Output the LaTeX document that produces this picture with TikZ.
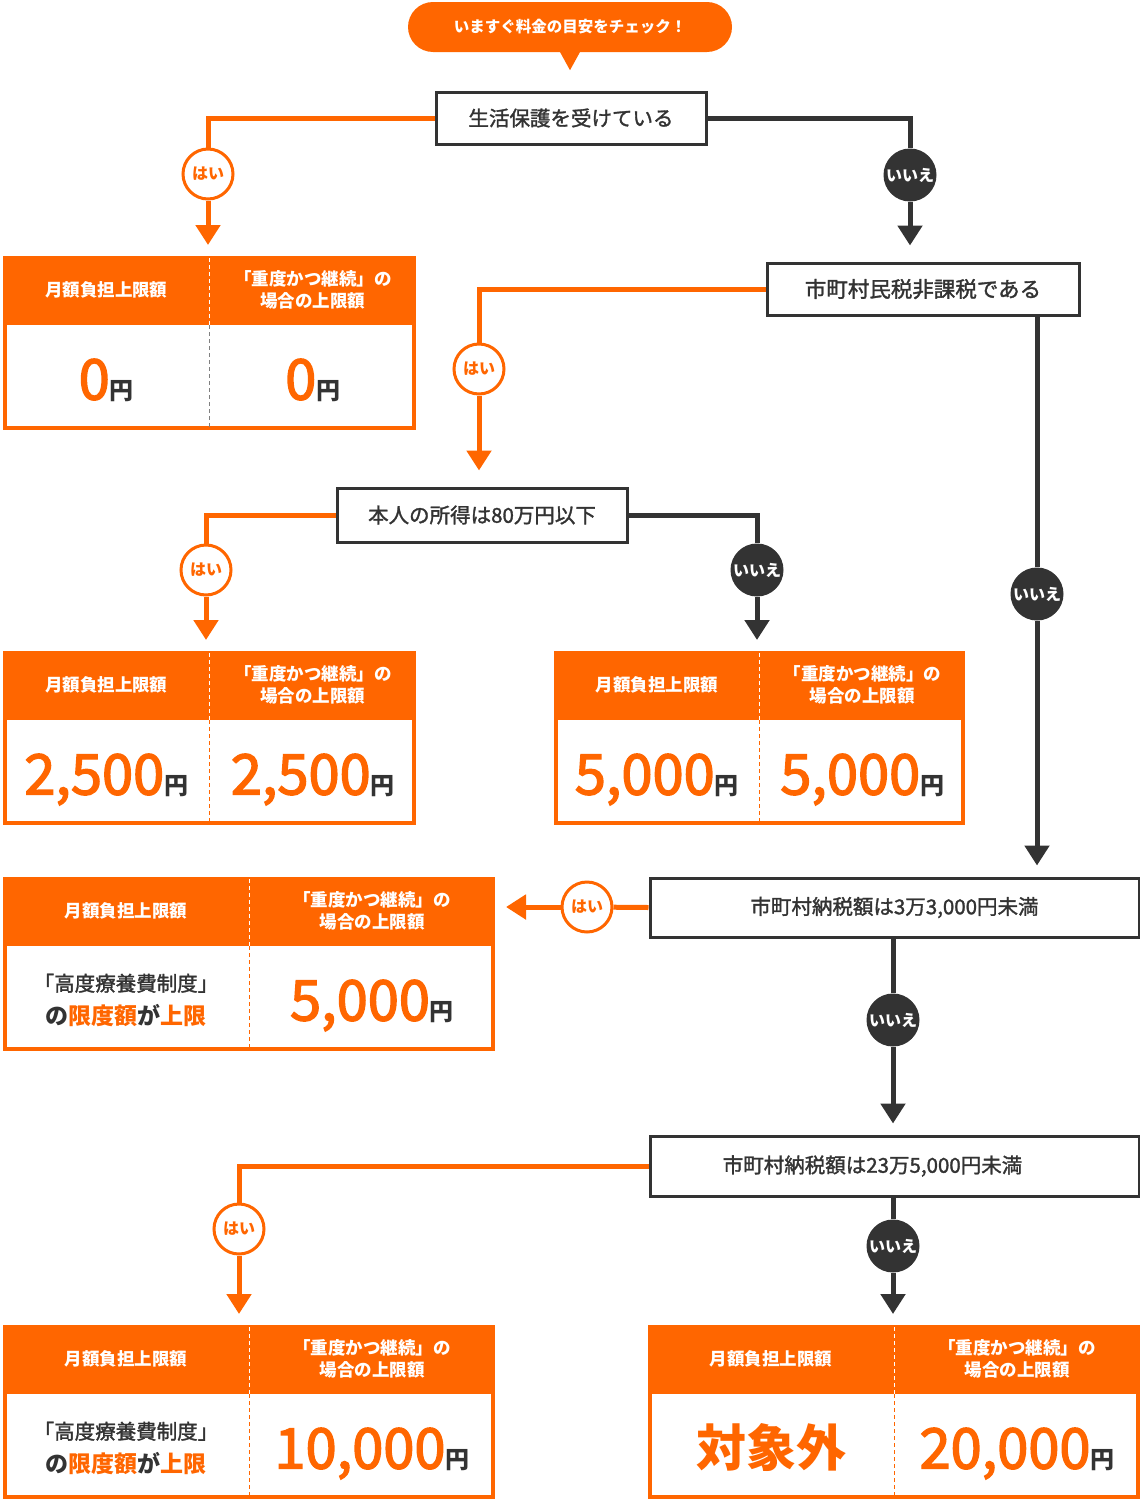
\documentclass[tikz,border=0pt]{standalone}
\usepackage{fontspec}
\setmainfont{Noto Sans CJK JP}
\newfontfamily\mediumfont[FakeBold=1.5]{Noto Sans CJK JP}
\newfontfamily\amountfont[FakeBold=2.5]{Noto Sans CJK JP}
\usepackage{tikz}
\usetikzlibrary{arrows.meta, calc, positioning}

\definecolor{brand}{HTML}{FF6600}
\definecolor{ink}{HTML}{333333}

% small unit after the amounts
\newcommand{\enunit}{{\normalfont\bfseries\color{ink}\fontsize{24}{24}\selectfont 円}}

% result box: [divider colour]{name}{top left}{width}
\newcommand{\costbox}[4][brand]{%
    \node[costframe, minimum width=#4pt, anchor=north west] (#2) at (#3) {};
    \fill[brand] (#2.north west) rectangle ($(#2.north east)+(0,69)$);
    \draw[divider, white] ($(#2.north)+(0,2)$) -- ($(#2.north)+(0,69)$);
    \draw[divider, #1] ($(#2.north)+(0,69)$) -- ($(#2.south)+(0,-2)$);
    \node[headtext] (#2-hl) at ($(#2.north west)!0.5!(#2.north)+(0,34)$) {月額負担上限額};
    \node[headtext] (#2-hr) at ($(#2.north)!0.5!(#2.north east)+(0,34)$) {「重度かつ継続」の\\場合の上限額};
    \coordinate (#2-bl) at ($(#2.south west)!0.5!(#2.south)+(0,-51)$);
    \coordinate (#2-br) at ($(#2.south)!0.5!(#2.south east)+(0,-51)$);
}

\begin{document}
\begin{tikzpicture}[
        x=1pt, y=-1pt, % pixel grid, y going down
        every node/.style={inner sep=0pt},
        bubble/.style={fill=brand, text=white, rounded corners=25pt, minimum width=324pt, minimum height=50pt, font=\fontsize{15.5}{15.5}\selectfont\bfseries},
        question/.style={draw=ink, line width=3pt, fill=white, text=ink, anchor=north west, font=\mediumfont\fontsize{20.5}{20.5}\selectfont},
        costframe/.style={draw=brand, line width=4pt, fill=white, minimum height=170pt},
        divider/.style={line width=1pt, dash pattern=on 4pt off 3pt},
        headtext/.style={text=white, align=center, font=\fontsize{17.5}{22}\selectfont\bfseries},
        amount/.style={text=brand, font=\amountfont\fontsize{56}{56}\selectfont, text height=41pt, text depth=0pt},
        bigword/.style={text=brand, font=\fontsize{50}{50}\selectfont\bfseries},
        note/.style={text=ink, align=center, font=\mediumfont\fontsize{20.5}{33}\selectfont},
        yesdot/.style={circle, draw=brand, line width=3pt, fill=white, minimum size=50pt, text=brand, font=\fontsize{16}{16}\selectfont\bfseries},
        nodot/.style={circle, fill=ink, minimum size=53pt, text=white, font=\fontsize{16}{16}\selectfont\bfseries},
        yes/.style={draw=brand, line width=5pt},
        no/.style={draw=ink, line width=5pt},
        tip/.style={-{Triangle[width=24pt,length=20pt]}, shorten >=11pt},
        longtip/.style={-{Triangle[width=24pt,length=20pt]}, shorten >=16pt}
    ]
        \useasboundingbox (0,0) rectangle (1140,1499);

        % Speech bubble
        \node[bubble] (hint) at (570,27) {いますぐ料金の目安をチェック！};
        \fill[brand] ($(hint.south)+(-11,-2)$) -- ($(hint.south)+(0,18)$) -- ($(hint.south)+(11,-2)$) -- cycle;

        % Questions
        \node[question, minimum width=270pt, minimum height=52pt] (q1) at (434.5,90.5) {生活保護を受けている};
        \node[question, minimum width=312pt, minimum height=52pt, font=\mediumfont\fontsize{21.5}{21.5}\selectfont] (q2) at (765.5,261.5) {市町村民税非課税である};
        \node[question, minimum width=290pt, minimum height=54pt] (q3) at (335.5,486.5) {本人の所得は80万円以下};
        \node[question, minimum width=489pt, minimum height=59pt] (q4) at (648.5,876.5) {市町村納税額は3万3,000円未満};
        \node[question, minimum width=489pt, minimum height=60pt] (q5) at (648.5,1134.5) {市町村納税額は23万5,000円未満\hspace*{44pt}};

        % Result boxes
        \costbox[gray]{resA}{3,256}{409}
        \node[amount] (resA-l) at (resA-bl) {0\enunit};
        \node[amount] (resA-r) at (resA-br) {0\enunit};

        \costbox{resB}{3,651}{409}
        \node[amount] (resB-l) at (resB-bl) {2,500\enunit};
        \node[amount] (resB-r) at (resB-br) {2,500\enunit};

        \costbox{resC}{554,651}{407}
        \node[amount] (resC-l) at (resC-bl) {5,000\enunit};
        \node[amount] (resC-r) at (resC-br) {5,000\enunit};

        \costbox{resD}{3,877}{488}
        \node[note] (resD-l) at (resD-bl) {「高度療養費制度」\\{\normalfont\fontsize{23}{33}\selectfont\bfseries の\textcolor{brand}{限度額}が\textcolor{brand}{上限}}};
        \node[amount] (resD-r) at (resD-br) {5,000\enunit};

        \costbox{resE}{3,1325}{488}
        \node[note] (resE-l) at (resE-bl) {「高度療養費制度」\\{\normalfont\fontsize{23}{33}\selectfont\bfseries の\textcolor{brand}{限度額}が\textcolor{brand}{上限}}};
        \node[amount] (resE-r) at (resE-br) {10,000\enunit};

        \costbox{resF}{648,1325}{488}
        \node[bigword] (resF-l) at (resF-bl) {対象外};
        \node[amount] (resF-r) at (resF-br) {20,000\enunit};

        % Answer markers
        \node[yesdot] (y1) at (208,174) {はい};
        \node[nodot] (n1) at (910,175) {いいえ};
        \node[yesdot] (y2) at (479,369) {はい};
        \node[nodot] (n2) at (1037,594) {いいえ};
        \node[yesdot] (y3) at (206,570) {はい};
        \node[nodot] (n3) at (757,570) {いいえ};
        \node[yesdot] (y4) at (587,907) {はい};
        \node[nodot] (n4) at (893,1020) {いいえ};
        \node[yesdot] (y5) at (239,1229) {はい};
        \node[nodot] (n5) at (893,1246) {いいえ};

        % Connectors
        \draw[yes] (q1.west) -| (y1);
        \draw[yes, tip] (y1) -- (y1 |- resA.north);
        \draw[no] (q1.east) -| (n1);
        \draw[no, longtip] (n1) -- (n1 |- q2.north);

        \draw[yes] (q2.west) -| (y2);
        \draw[yes, longtip] (y2) -- (y2 |- q3.north);
        \draw[no] (q2.south -| n2) -- (n2);
        \draw[no, tip] (n2) -- (n2 |- q4.north);

        \draw[yes] (q3.west) -| (y3);
        \draw[yes, tip] (y3) -- (y3 |- resB.north);
        \draw[no] (q3.east) -| (n3);
        \draw[no, tip] (n3) -- (n3 |- resC.north);

        \draw[yes] (q4.west) -- (y4);
        \draw[yes, tip] (y4) -- (y4 -| resD.east);
        \draw[no] (n4 |- q4.south) -- (n4);
        \draw[no, tip] (n4) -- (n4 |- q5.north);

        \draw[yes] (q5.west) -| (y5);
        \draw[yes, tip] (y5) -- (y5 |- resE.north);
        \draw[no] (n5 |- q5.south) -- (n5);
        \draw[no, tip] (n5) -- (n5 |- resF.north);

\end{tikzpicture}
\end{document}
